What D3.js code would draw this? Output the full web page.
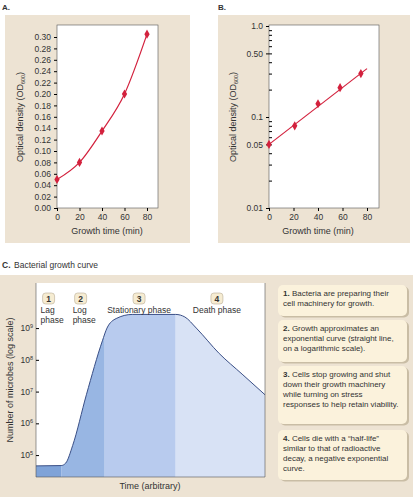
<!DOCTYPE html>
<html><head><meta charset="utf-8">
<script src="https://cdn.jsdelivr.net/npm/d3@7"></script>
<style>
body{margin:0;background:#fff;font-family:"Liberation Sans",Arial,sans-serif;}
text{fill:#333;}
</style></head>
<body><svg id="fig" width="413" height="502"></svg>
<script>
// growth time data (panels A and B)
var times = [0, 20, 40, 60, 80];
var odA = [0.05, 0.08, 0.135, 0.2, 0.305];
var timesB = [0, 21, 40, 58, 75];
var odB = [0.05, 0.08, 0.14, 0.21, 0.30];
var lineB_t = [0, 80];
var lineB_od = [0.05, 0.34];
var ticksA = [0,0.02,0.04,0.06,0.08,0.10,0.12,0.14,0.16,0.18,0.20,0.22,0.24,0.26,0.28,0.30];
var ticksB = [0.01, 0.05, 0.1, 0.5, 1.0];
var ticksBLabels = ["0.01", "0.05", "0.1", "0.50", "1.0"];

// growth curve (panel C), time arbitrary 0..100, log10 count
var curveT =   [0,    11,   13,   16,  22,  29,  31,  35,  42,   61,   65,   70,  80,  90,   100];
var curveLog = [4.66, 4.67, 4.75, 5.3, 6.9, 8.6, 9.0, 9.3, 9.43, 9.43, 9.35, 9.0, 8.2, 7.55, 6.9];
var phaseBreaks = [0, 11, 30, 61, 100];
var phaseColors = ["#7fa3d8", "#98b6e3", "#b8cbee", "#d8e2f5"];
var phaseNum = ["1", "2", "3", "4"];
var phaseName = [["Lag","phase"], ["Log","phase"], ["Stationary phase"], ["Death phase"]];
var logTicks = [5, 6, 7, 8, 9];
var notes = [
  ["1.", " Bacteria are preparing their", "cell machinery for growth."],
  ["2.", " Growth approximates an", "exponential curve (straight line,", "on a logarithmic scale)."],
  ["3.", " Cells stop growing and shut", "down their growth machinery", "while turning on stress", "responses to help retain viability."],
  ["4.", " Cells die with a \u201chalf-life\u201d", "similar to that of radioactive", "decay, a negative exponential", "curve."]
];

var svg = d3.select("#fig");
var beige = "#ede3d3", red = "#d3213d";
var fs = 8.5;

// ---------- panel A ----------
svg.append("rect").attr("x",5).attr("y",15).attr("width",185).attr("height",228).attr("fill",beige);
svg.append("text").attr("x",2).attr("y",10).attr("font-size",8).attr("font-weight","bold").text("A.");
var xA = d3.scaleLinear().domain([0,80]).range([57,147]);
var yA = d3.scaleLinear().domain([0,0.30]).range([208,37]);
svg.append("rect").attr("x",57).attr("y",25).attr("width",101).attr("height",183).attr("fill","#fff").attr("stroke","#555").attr("stroke-width",0.6);
svg.append("g").attr("transform","translate(57,0)")
  .call(d3.axisLeft(yA).tickValues(ticksA).tickFormat(d3.format(".2f")).tickSize(3))
  .call(g=>g.select(".domain").remove())
  .call(g=>g.selectAll("text").attr("font-size",fs).attr("fill","#333"));
svg.append("g").attr("transform","translate(0,208)")
  .call(d3.axisBottom(xA).tickValues(times).tickSize(3))
  .call(g=>g.select(".domain").remove())
  .call(g=>g.selectAll("text").attr("font-size",fs).attr("fill","#333"));
svg.append("text").attr("x",107).attr("y",234).attr("text-anchor","middle").attr("font-size",9).text("Growth time (min)");
var ylabA = svg.append("text").attr("transform","translate(23,117) rotate(-90)").attr("text-anchor","middle").attr("font-size",9);
ylabA.append("tspan").text("Optical density (OD");
ylabA.append("tspan").attr("font-size",5.5).attr("dy",2).text("600");
ylabA.append("tspan").attr("dy",-2).text(")");
svg.append("path").datum(times.map((t,i)=>[t,odA[i]]))
  .attr("d", d3.line().x(d=>xA(d[0])).y(d=>yA(d[1])).curve(d3.curveMonotoneX))
  .attr("fill","none").attr("stroke",red).attr("stroke-width",1.2);
svg.selectAll(".dA").data(times).enter().append("path")
  .attr("transform",(d,i)=>"translate("+xA(d)+","+yA(odA[i])+")")
  .attr("d",d3.symbol(d3.symbolDiamond,24)).attr("fill",red);

// ---------- panel B ----------
svg.append("rect").attr("x",218).attr("y",15).attr("width",192).attr("height",228).attr("fill",beige);
svg.append("text").attr("x",218).attr("y",10).attr("font-size",8).attr("font-weight","bold").text("B.");
var xB = d3.scaleLinear().domain([0,80]).range([269,367]);
var yB = d3.scaleLog().domain([0.01,1]).range([208,26]);
svg.append("rect").attr("x",269).attr("y",25).attr("width",110).attr("height",183).attr("fill","#fff").attr("stroke","#555").attr("stroke-width",0.6);
var minor = [];
[0.01,0.1].forEach(function(dec){ for (var k=2;k<=9;k++) minor.push(dec*k); });
svg.append("g").attr("transform","translate(269,0)")
  .call(d3.axisRight(yB).tickValues(minor).tickSize(3).tickFormat(""))
  .call(g=>g.select(".domain").remove());
svg.append("g").attr("transform","translate(269,0)")
  .call(d3.axisLeft(yB).tickValues(ticksB).tickSize(3).tickFormat((d,i)=>ticksBLabels[i]))
  .call(g=>g.select(".domain").remove())
  .call(g=>g.selectAll("text").attr("font-size",fs).attr("fill","#333"));
svg.append("g").attr("transform","translate(0,208)")
  .call(d3.axisBottom(xB).tickValues(times).tickSize(3))
  .call(g=>g.select(".domain").remove())
  .call(g=>g.selectAll("text").attr("font-size",fs).attr("fill","#333"));
svg.append("text").attr("x",318).attr("y",234).attr("text-anchor","middle").attr("font-size",9).text("Growth time (min)");
var ylabB = svg.append("text").attr("transform","translate(236,117) rotate(-90)").attr("text-anchor","middle").attr("font-size",9);
ylabB.append("tspan").text("Optical density (OD");
ylabB.append("tspan").attr("font-size",5.5).attr("dy",2).text("600");
ylabB.append("tspan").attr("dy",-2).text(")");
svg.append("path").datum(lineB_t.map((t,i)=>[t,lineB_od[i]]))
  .attr("d", d3.line().x(d=>xB(d[0])).y(d=>yB(d[1])))
  .attr("fill","none").attr("stroke",red).attr("stroke-width",1.2);
svg.selectAll(".dB").data(timesB).enter().append("path")
  .attr("transform",(d,i)=>"translate("+xB(d)+","+yB(odB[i])+")")
  .attr("d",d3.symbol(d3.symbolDiamond,24)).attr("fill",red);

// ---------- panel C ----------
svg.append("text").attr("x",2).attr("y",268).attr("font-size",8.5).attr("font-weight","bold").text("C.");
svg.append("text").attr("x",14).attr("y",268).attr("font-size",8.5).text("Bacterial growth curve");
svg.append("rect").attr("x",0).attr("y",275).attr("width",413).attr("height",222).attr("fill",beige);
var xC = d3.scaleLinear().domain([0,100]).range([36,265]);
var yC = d3.scaleLinear().domain([4.31,10.42]).range([477,283]);
svg.append("rect").attr("x",36).attr("y",283).attr("width",229).attr("height",194).attr("fill","#fff");
var pts = curveT.map((t,i)=>[t,curveLog[i]]);
var area = d3.area().x(d=>xC(d[0])).y0(yC(4.31)).y1(d=>yC(d[1])).curve(d3.curveMonotoneX);
phaseColors.forEach(function(c,i){
  var id = "clip"+i;
  svg.append("clipPath").attr("id",id).append("rect")
    .attr("x",xC(phaseBreaks[i])).attr("y",283).attr("width",xC(phaseBreaks[i+1])-xC(phaseBreaks[i])).attr("height",194);
  svg.append("path").datum(pts).attr("d",area).attr("fill",c).attr("clip-path","url(#"+id+")");
});
svg.append("path").datum(pts)
  .attr("d", d3.line().x(d=>xC(d[0])).y(d=>yC(d[1])).curve(d3.curveMonotoneX))
  .attr("fill","none").attr("stroke","#3a4f86").attr("stroke-width",1);
svg.append("path").attr("d","M36,283V477H265V283").attr("fill","none").attr("stroke","#555").attr("stroke-width",0.6);
svg.append("g").attr("transform","translate(36,0)")
  .call(d3.axisRight(yC).tickValues(logTicks).tickSize(3).tickFormat(""))
  .call(g=>g.select(".domain").remove());
logTicks.forEach(function(v){
  var t = svg.append("text").attr("x",33).attr("y",yC(v)+3).attr("text-anchor","end").attr("font-size",8.5);
  t.append("tspan").text("10");
  t.append("tspan").attr("font-size",5.5).attr("dy",-3).text(v);
});
svg.append("text").attr("transform","translate(13,380) rotate(-90)").attr("text-anchor","middle").attr("font-size",9).text("Number of microbes (log scale)");
svg.append("text").attr("x",150).attr("y",489).attr("text-anchor","middle").attr("font-size",9).text("Time (arbitrary)");

// phase labels
var labelT = [2, 16, 45, 79];
var labelAnchor = ["start","start","middle","middle"];
phaseNum.forEach(function(n,i){
  var cx = i<2 ? xC(labelT[i])+8 : xC(labelT[i]);
  svg.append("rect").attr("x",cx-6).attr("y",293).attr("width",12).attr("height",11).attr("rx",3)
    .attr("fill","#f6ecd2").attr("stroke","#b8ad96").attr("stroke-width",0.6);
  svg.append("text").attr("x",cx).attr("y",302).attr("text-anchor","middle").attr("font-size",8.5).attr("font-weight","bold").text(n);
  phaseName[i].forEach(function(s,j){
    svg.append("text").attr("x",xC(labelT[i])).attr("y",313+j*10)
      .attr("text-anchor",labelAnchor[i]).attr("font-size",8.5).text(s);
  });
});

// notes
var boxY = [285, 320, 366, 430];
var boxH = [31, 42, 58, 50];
notes.forEach(function(lines,i){
  svg.append("rect").attr("x",280).attr("y",boxY[i]+1.5).attr("width",129).attr("height",boxH[i]).attr("rx",5).attr("fill","#c9bda5");
  svg.append("rect").attr("x",278).attr("y",boxY[i]).attr("width",129).attr("height",boxH[i]).attr("rx",5).attr("fill","#fbf2dc");
  lines.slice(1).forEach(function(s,j){
    var t = svg.append("text").attr("x",283).attr("y",boxY[i]+11+j*10).attr("font-size",8);
    if (j===0) t.append("tspan").attr("font-weight","bold").text(lines[0]);
    t.append("tspan").text(s);
  });
});
</script></body></html>
